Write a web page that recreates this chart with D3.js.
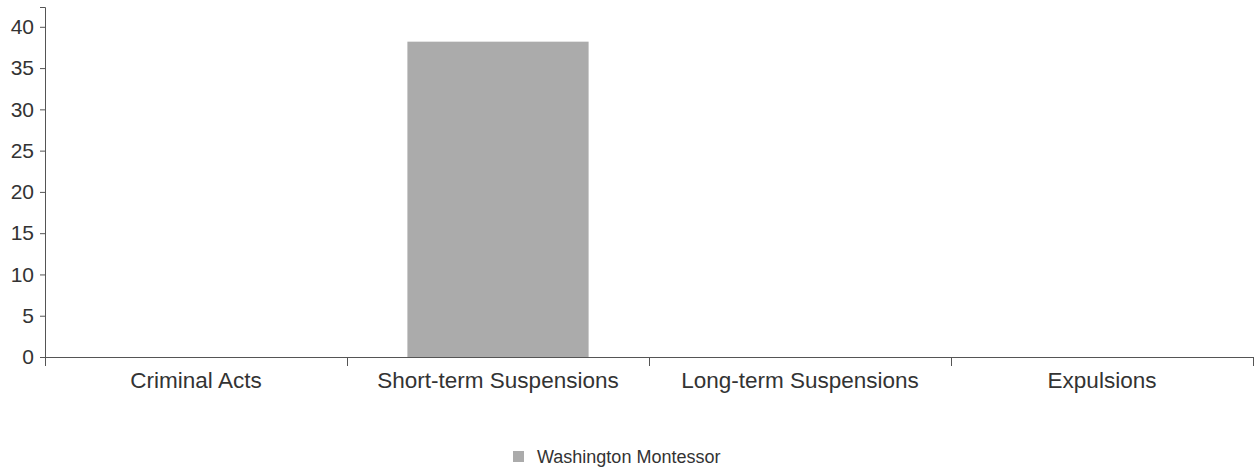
<!DOCTYPE html>
<html>
<head>
<meta charset="utf-8">
<script src="https://cdn.jsdelivr.net/npm/d3@7"></script>
<style>
  body { margin: 0; background: #fff; }
  text { font-family: "Liberation Sans", Arial, sans-serif; fill: #333; }
  .axis path, .axis line { stroke: #555; }
</style>
</head>
<body>
<div class="chart"></div>
<script>
// data
var categories = ['Criminal Acts', 'Short-term Suspensions', 'Long-term Suspensions', 'Expulsions'];
var seriesName = 'Washington Montessor';
var seriesValues = [0, 38.2, 0, 0];
var yTicks = [0, 5, 10, 15, 20, 25, 30, 35, 40];

var svgWidth = 1260;
var svgHeight = 471;

var margin = { top: 7, left: 45, right: 7, bottom: 114 };
var width = svgWidth - margin.left - margin.right;
var height = svgHeight - margin.top - margin.bottom;

var svg = d3.select('.chart')
  .append('svg')
  .attr('width', svgWidth)
  .attr('height', svgHeight);

var chart = svg.append('g')
  .attr('transform', `translate(${margin.left}, ${margin.top})`);

var x = d3.scaleBand().domain(categories).range([0, width]).padding(0);
var y = d3.scaleLinear().domain([0, 42.4]).range([height, 0]);

// bars
chart.selectAll('rect.bar')
  .data(categories)
  .enter()
  .append('rect')
  .attr('class', 'bar')
  .attr('x', function(d) { return x(d) + x.bandwidth() * 0.2; })
  .attr('width', x.bandwidth() * 0.6)
  .attr('y', function(d, i) { return y(seriesValues[i]); })
  .attr('height', function(d, i) { return height - y(seriesValues[i]); })
  .attr('fill', '#ababab');

// y axis
var leftAxis = d3.axisLeft(y).tickValues(yTicks).tickSize(5).tickSizeOuter(5).tickPadding(6);
var yg = chart.append('g').attr('class', 'axis').call(leftAxis);
yg.selectAll('text').style('font-size', '21px');
yg.select('.domain').attr('d', `M-5,0.5H0.5V${height + 9}`);

// x axis: labels centred, ticks at band edges
var bottomAxis = d3.axisBottom(x).tickSize(0).tickPadding(15);
var xg = chart.append('g').attr('class', 'axis')
  .attr('transform', `translate(0, ${height})`)
  .call(bottomAxis);
xg.select('.domain').attr('d', `M0.5,0.5H${width + 0.5}`);
xg.selectAll('text').style('font-size', '22.5px');

var edges = categories.map(function(d) { return x(d); }).concat([width]);
xg.selectAll('line.edge')
  .data(edges)
  .enter()
  .append('line')
  .attr('class', 'edge')
  .attr('x1', function(d) { return d + 0.5; })
  .attr('x2', function(d) { return d + 0.5; })
  .attr('y1', 0)
  .attr('y2', 9);

// legend
var legend = svg.append('g').attr('transform', 'translate(513, 451)');
legend.append('rect').attr('width', 11).attr('height', 11).attr('fill', '#ababab');
legend.append('text').attr('x', 24).attr('y', 11.5).style('font-size', '18px').text(seriesName);
</script>
</body>
</html>
